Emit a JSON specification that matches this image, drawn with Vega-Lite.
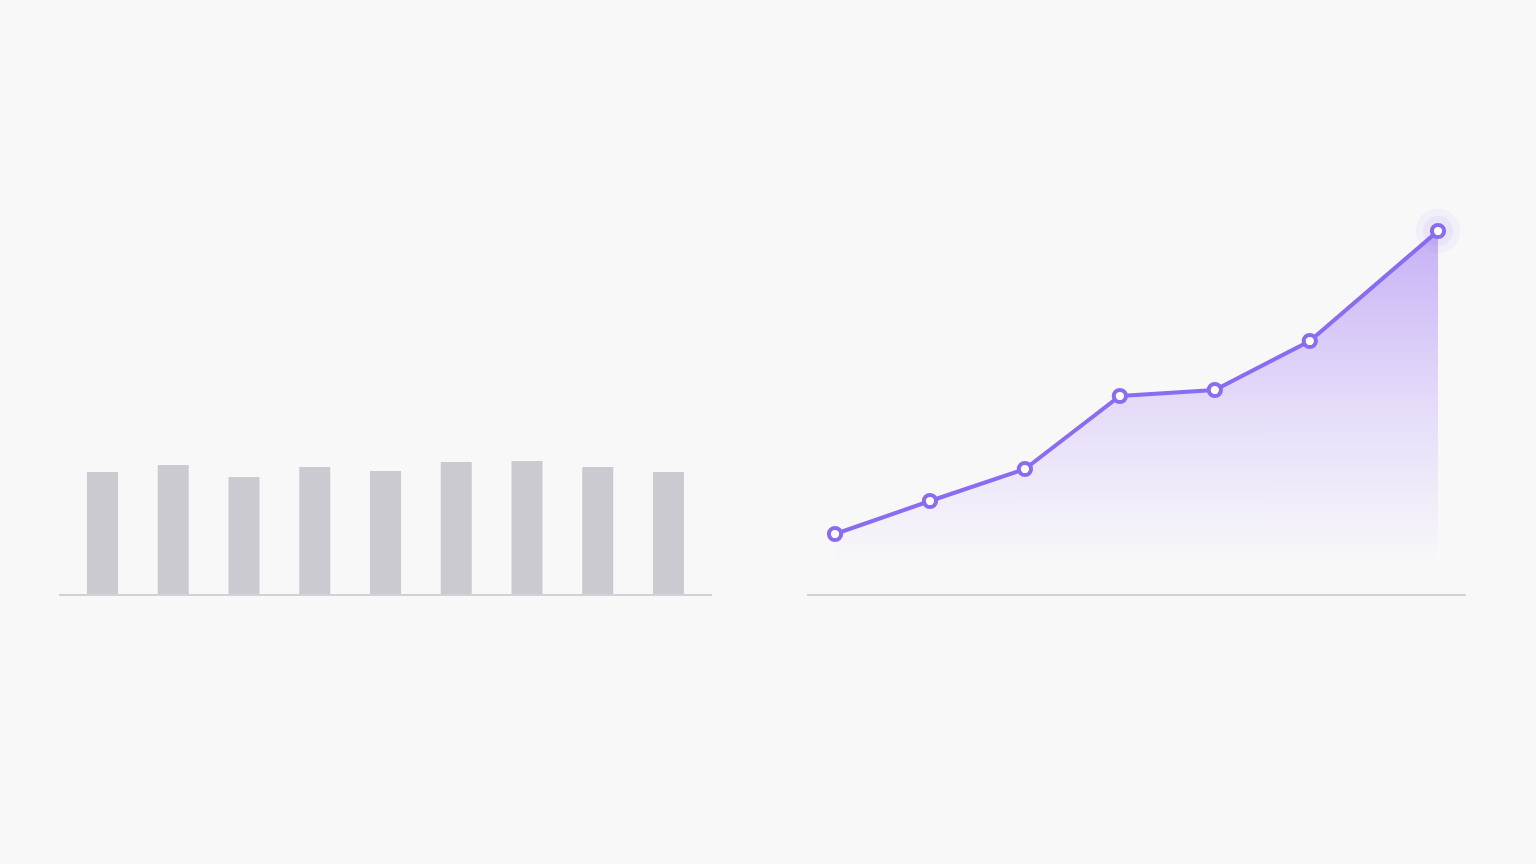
{
  "$schema": "https://vega.github.io/schema/vega-lite/v6.json",
  "background": "#f8f8f9",
  "padding": {"left": 58, "top": 195, "right": 73, "bottom": 269},
  "spacing": 93,
  "config": {"view": {"stroke": null}},
  "hconcat": [
    {
      "width": 653,
      "height": 400,
      "data": {"values": [
        {"bar": 1, "value": 123},
        {"bar": 2, "value": 130},
        {"bar": 3, "value": 118},
        {"bar": 4, "value": 128},
        {"bar": 5, "value": 124},
        {"bar": 6, "value": 133},
        {"bar": 7, "value": 134},
        {"bar": 8, "value": 128},
        {"bar": 9, "value": 123}
      ]},
      "layer": [
        {
          "mark": {"type": "bar", "color": "#cbcad1"},
          "encoding": {
            "x": {"field": "bar", "type": "ordinal", "axis": null,
                  "scale": {"paddingInner": 0.562, "paddingOuter": 0.396}},
            "y": {"field": "value", "type": "quantitative", "axis": null,
                  "scale": {"domain": [0, 400]}}
          }
        },
        {
          "mark": {"type": "rule", "color": "#d2d1d8", "strokeWidth": 2},
          "encoding": {"y": {"datum": 0, "type": "quantitative"}}
        }
      ]
    },
    {
      "width": 659,
      "height": 400,
      "data": {"values": [
        {"step": 0, "value": 61},
        {"step": 1, "value": 94},
        {"step": 2, "value": 126},
        {"step": 3, "value": 199},
        {"step": 4, "value": 205},
        {"step": 5, "value": 254},
        {"step": 6.35, "value": 364}
      ]},
      "encoding": {
        "x": {"field": "step", "type": "quantitative", "axis": null,
              "scale": {"domain": [-0.295, 6.645], "nice": false, "zero": false}},
        "y": {"field": "value", "type": "quantitative", "axis": null,
              "scale": {"domain": [0, 400]}}
      },
      "layer": [
        {
          "mark": {
            "type": "area",
            "color": {
              "gradient": "linear", "x1": 0, "y1": 0, "x2": 0, "y2": 1,
              "stops": [
                {"offset": 0, "color": "#c6b1f5"},
                {"offset": 0.5, "color": "#e6ddf9"},
                {"offset": 0.92, "color": "#f8f8f9"},
                {"offset": 1, "color": "#f8f8f9"}
              ]
            }
          }
        },
        {
          "mark": {"type": "rule", "color": "#d2d1d8", "strokeWidth": 2},
          "encoding": {"x": null, "y": {"datum": 0, "type": "quantitative"}}
        },
        {
          "mark": {"type": "line", "color": "#8a6cf0", "strokeWidth": 4}
        },
        {
          "transform": [{"filter": "datum.step > 6"}],
          "mark": {"type": "circle", "color": "#8a6cf0", "opacity": 0.06, "size": 2000}
        },
        {
          "transform": [{"filter": "datum.step > 6"}],
          "mark": {"type": "circle", "color": "#8a6cf0", "opacity": 0.08, "size": 900}
        },
        {
          "mark": {"type": "point", "filled": true, "fill": "#ffffff", "stroke": "#8a6cf0",
                   "strokeWidth": 4, "size": 150, "opacity": 1}
        }
      ]
    }
  ]
}
